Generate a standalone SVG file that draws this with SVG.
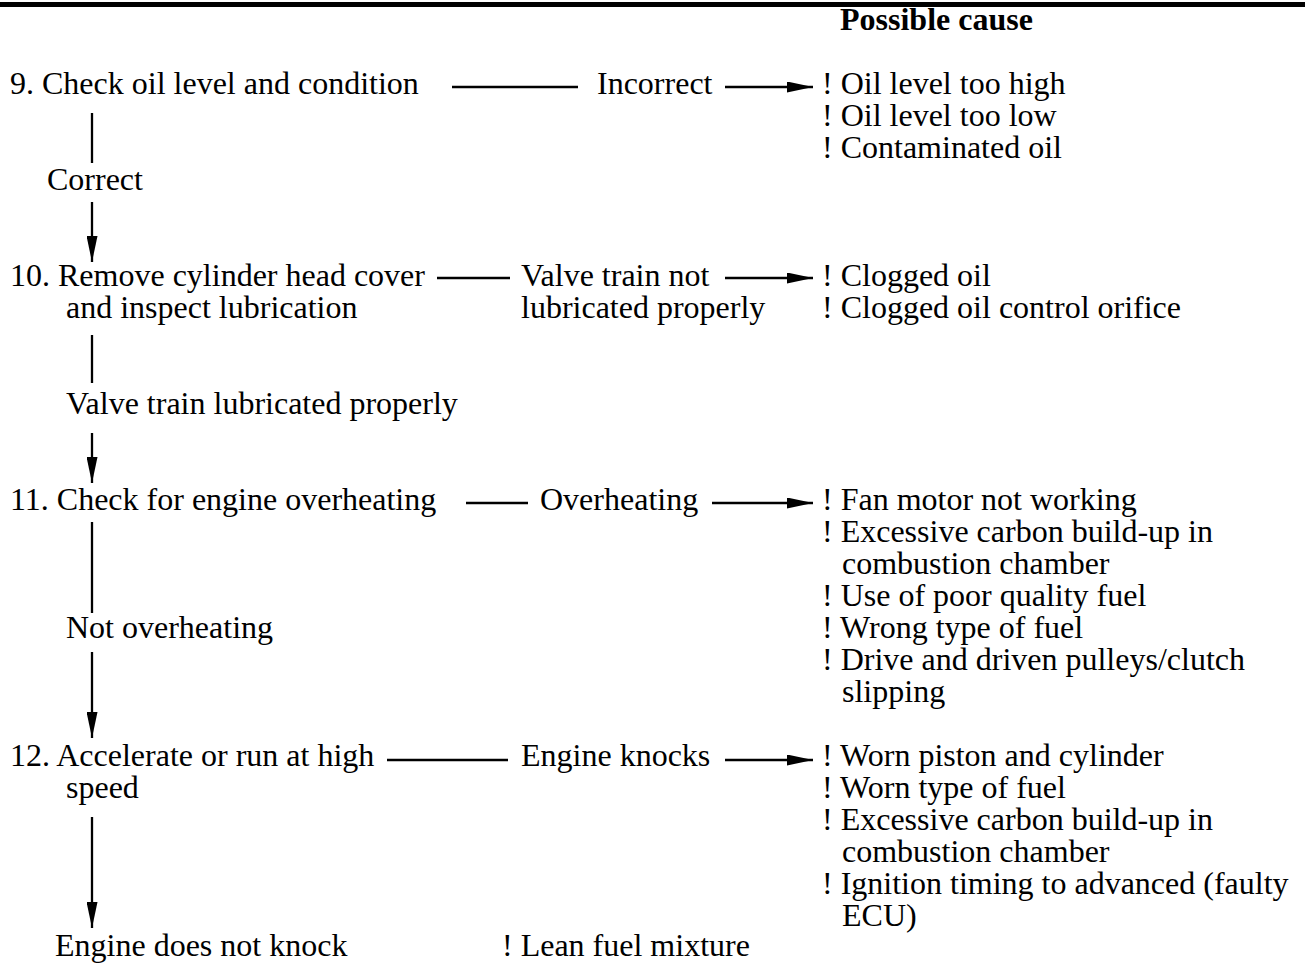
<svg xmlns="http://www.w3.org/2000/svg" width="1305" height="967" viewBox="0 0 1305 967">
<style>
text{font-family:"Liberation Serif","Times New Roman",serif;font-size:32px;fill:#000}
.b{font-weight:bold}
.ln{stroke:#000;stroke-width:2.3;fill:none}
.ar{stroke:#000;stroke-width:2.3;fill:none;marker-end:url(#ah)}
</style>
<defs>
<marker id="ah" markerUnits="userSpaceOnUse" markerWidth="26" markerHeight="11" refX="26" refY="5.5" orient="auto">
<path d="M0,0 L26,5.5 L0,11 Z" fill="#000"/>
</marker>
</defs>
<rect x="0" y="2" width="1305" height="5" fill="#000"/>
<text class="b" x="840" y="30">Possible cause</text>

<g id="step9">
<text x="10" y="94">9. Check oil level and condition</text>
</g>
<g id="label-incorrect"><text x="597" y="94">Incorrect</text></g>
<g id="causes9">
<text x="822" y="94">! Oil level too high</text>
<text x="822" y="126">! Oil level too low</text>
<text x="822" y="158">! Contaminated oil</text>
</g>
<g id="label-correct"><text x="47" y="190">Correct</text></g>

<g id="step10">
<text x="10" y="286">10. Remove cylinder head cover</text>
<text x="66" y="318">and inspect lubrication</text>
</g>
<g id="label-notlub">
<text x="521" y="286">Valve train not</text>
<text x="521" y="318">lubricated properly</text>
</g>
<g id="causes10">
<text x="822" y="286">! Clogged oil</text>
<text x="822" y="318">! Clogged oil control orifice</text>
</g>
<g id="label-lub"><text x="66" y="414">Valve train lubricated properly</text></g>

<g id="step11">
<text x="10" y="510">11. Check for engine overheating</text>
</g>
<g id="label-overheating"><text x="540" y="510">Overheating</text></g>
<g id="causes11">
<text x="822" y="510">! Fan motor not working</text>
<text x="822" y="542">! Excessive carbon build-up in</text>
<text x="842" y="574">combustion chamber</text>
<text x="822" y="606">! Use of poor quality fuel</text>
<text x="822" y="638">! Wrong type of fuel</text>
<text x="822" y="670">! Drive and driven pulleys/clutch</text>
<text x="842" y="702">slipping</text>
</g>
<g id="label-notover"><text x="66" y="638">Not overheating</text></g>

<g id="step12">
<text x="10" y="766">12. Accelerate or run at high</text>
<text x="66" y="798">speed</text>
</g>
<g id="label-knocks"><text x="521" y="766">Engine knocks</text></g>
<g id="causes12">
<text x="822" y="766">! Worn piston and cylinder</text>
<text x="822" y="798">! Worn type of fuel</text>
<text x="822" y="830">! Excessive carbon build-up in</text>
<text x="842" y="862">combustion chamber</text>
<text x="822" y="894">! Ignition timing to advanced (faulty</text>
<text x="842" y="926">ECU)</text>
</g>
<g id="label-noknock"><text x="55" y="956">Engine does not knock</text></g>
<g id="cause-lean"><text x="502" y="956">! Lean fuel mixture</text></g>

<g id="connectors">
<line class="ln" x1="452" y1="87" x2="578" y2="87"/>
<line class="ar" x1="725" y1="87" x2="813" y2="87"/>
<line class="ln" x1="437" y1="278" x2="510" y2="278"/>
<line class="ar" x1="725" y1="278" x2="813" y2="278"/>
<line class="ln" x1="466" y1="503" x2="528" y2="503"/>
<line class="ar" x1="712" y1="503" x2="813" y2="503"/>
<line class="ln" x1="387" y1="760" x2="508" y2="760"/>
<line class="ar" x1="725" y1="760" x2="813" y2="760"/>
<line class="ln" x1="92" y1="113" x2="92" y2="163"/>
<line class="ar" x1="92" y1="202" x2="92" y2="262"/>
<line class="ln" x1="92" y1="335" x2="92" y2="383"/>
<line class="ar" x1="92" y1="433" x2="92" y2="483"/>
<line class="ln" x1="92" y1="522" x2="92" y2="613"/>
<line class="ar" x1="92" y1="652" x2="92" y2="738"/>
<line class="ar" x1="92" y1="817" x2="92" y2="928"/>
</g>
</svg>
